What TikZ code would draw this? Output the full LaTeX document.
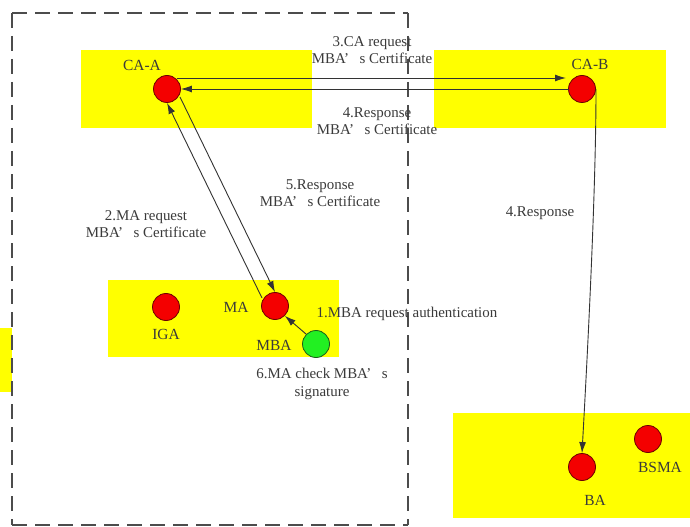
\documentclass[tikz,border=0pt]{standalone}
\usepackage{fontspec}
\setmainfont{Liberation Serif}
\usetikzlibrary{arrows.meta}
\definecolor{zone}{HTML}{FFFF00}
\definecolor{nodered}{HTML}{F40000}
\definecolor{nodeline}{HTML}{6A0000}
\definecolor{nodegreen}{HTML}{22F022}
\definecolor{greenline}{HTML}{1A5A1A}
\definecolor{txt}{HTML}{3A3A3A}
\begin{document}
\begin{tikzpicture}[x=1bp,y=-1bp,
  zonebox/.style={fill=zone,draw=none},
  agent/.style={circle,minimum size=27bp,inner sep=0pt,fill=nodered,draw=nodeline,line width=0.8bp},
  mobile/.style={circle,minimum size=27bp,inner sep=0pt,fill=nodegreen,draw=greenline,line width=0.8bp},
  lbl/.style={text=txt,font=\fontsize{15.5}{16}\selectfont,inner sep=0pt},
  msg/.style={text=txt,font=\fontsize{15}{17.5}\selectfont,align=center,inner sep=1pt},
  flow/.style={draw=black!80,line width=0.9bp,-{Latex[length=11bp,width=7bp]}},
  borderline/.style={draw=black!70,line width=1.3bp,dash pattern=on 15bp off 8bp}
]
\useasboundingbox (0,0) rectangle (690,527);
\fill[white] (0,0) rectangle (690,527);

% yellow domain zones
\fill[zonebox] (0,328) rectangle (12,392);
\fill[zonebox] (81,50) rectangle (312,128);
\fill[zonebox] (434,50) rectangle (666,128);
\fill[zonebox] (108,280) rectangle (339,357);
\fill[zonebox] (453,413) rectangle (690,518);

% dashed domain border
\draw[borderline] (12,13) -- (408,13);
\draw[borderline] (12,13) -- (12,525);
\draw[borderline] (408,13) -- (408,525);
\draw[borderline] (12,525) -- (408,525);

% entities
\node[agent] (caa) at (167,89) {};
\node[agent] (cab) at (582,89) {};
\node[agent] (iga) at (166,307) {};
\node[agent] (ma) at (275,306) {};
\node[mobile] (mba) at (316,344) {};
\node[agent] (ba) at (582,467) {};
\node[agent] (bsma) at (648,439) {};

\node[lbl] (lcaa) at (142,65) {CA-A};
\node[lbl] (lcab) at (590,64) {CA-B};
\node[lbl] (liga) at (166,334) {IGA};
\node[lbl] (lma) at (236,307) {MA};
\node[lbl] (lmba) at (274,345) {MBA};
\node[lbl] (lba) at (595,500) {BA};
\node[lbl] (lbsma) at (660,467) {BSMA};

% message flows
\coordinate (a3) at (177,78);
\coordinate (b3) at (566,78);
\draw[flow] (a3) -- (b3);
\coordinate (b4) at (569,89);
\draw[flow] (b4) -- (caa.east);
\coordinate (m2) at (262,298);
\draw[flow] (m2) -- (caa.south);
\coordinate (a5) at (180,97);
\draw[flow] (a5) -- (ma.north);
\draw[flow] (mba.north west) -- (ma.south east);
\coordinate (b5) at (596,89);
\draw[flow] (b5) .. controls (596,200) and (586,380) .. (ba.north);

% message labels
\node[msg] (t3) at (372,50) {3.CA request\\MBA’\hspace{0.7em}s Certificate};
\node[msg] (t4) at (377,121) {4.Response\\MBA’\hspace{0.7em}s Certificate};
\node[msg] (t5) at (320,193) {5.Response\\MBA’\hspace{0.7em}s Certificate};
\node[msg] (t2) at (146,224) {2.MA request\\MBA’\hspace{0.7em}s Certificate};
\node[msg] (t4b) at (540,213) {4.Response};
\node[msg] (t1) at (407,314) {1.MBA request authentication};
\node[msg] (t6) at (322,384) {6.MA check MBA’\hspace{0.7em}s\\signature};
\end{tikzpicture}
\end{document}
